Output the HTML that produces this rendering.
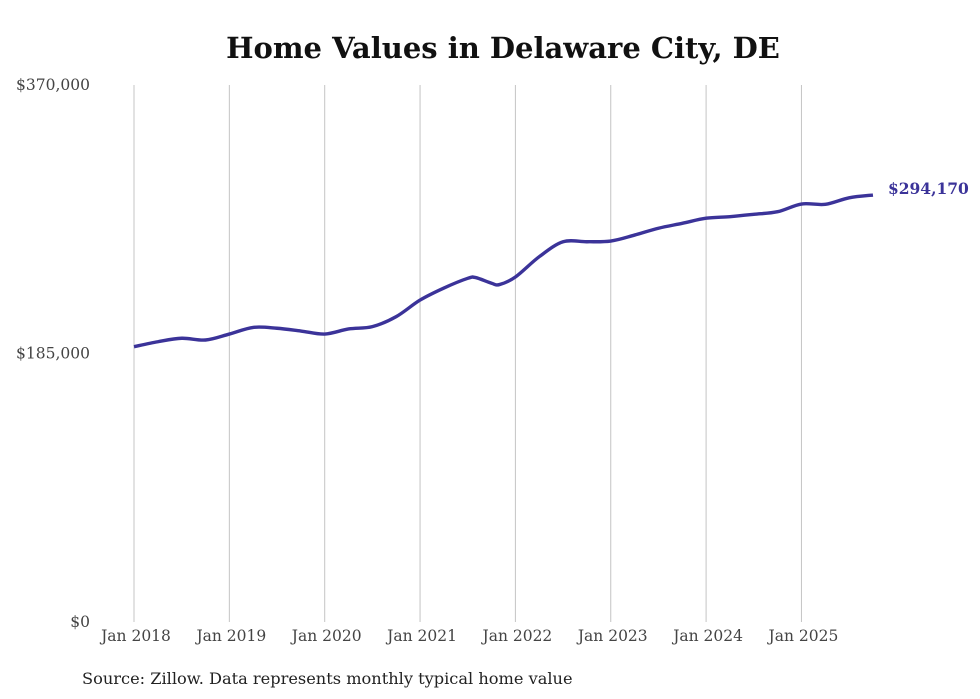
<!DOCTYPE html>
<html><head><meta charset="utf-8"><style>
body{margin:0;background:#fff;}
svg{display:block;font-family:"DejaVu Serif","Liberation Serif",serif;}
</style></head><body>
<svg id="chart" width="980" height="699">
<text x="503" y="58" text-anchor="middle" font-size="29" font-weight="bold" fill="#111">Home Values in Delaware City, DE</text>
<g id="grid"></g><g id="yticks"></g><g id="xticks"></g>
<path id="line" fill="none" stroke="#3b3399" stroke-width="3.4"/>
<text id="endlabel" font-size="15.5" font-weight="bold" fill="#3b3399"></text>
<text x="82" y="684" font-size="16.2" fill="#222">Source: Zillow. Data represents monthly typical home value</text>
</svg>
<script>
const months=[0,3,6,9,12,15,18,21,24,27,30,33,36,39,42,43,45,46,48,51,54,57,60,63,66,69,72,75,78,81,84,87,90,93];
const values=[189700,193100,195500,194300,198400,203000,202400,200500,198400,201900,203500,210400,221800,230100,236800,237300,233400,232500,237700,251700,262000,262000,262500,266600,271300,274700,278200,279300,280900,282700,288000,287800,292300,294170];
const yTickValues=[0,185000,370000];
const yTickLabels=["$0","$185,000","$370,000"];
const xTickYears=[2018,2019,2020,2021,2022,2023,2024,2025];
const xTickLabels=["Jan 2018","Jan 2019","Jan 2020","Jan 2021","Jan 2022","Jan 2023","Jan 2024","Jan 2025"];
const endLabel="$294,170";
const X=m=>134+m*(95.35/12);
const Y=v=>622-v/370000*537;
const ns="http://www.w3.org/2000/svg";
function mk(tag,attrs,parent){const e=document.createElementNS(ns,tag);for(const k in attrs)e.setAttribute(k,attrs[k]);parent.appendChild(e);return e;}
const grid=document.getElementById('grid'),yt=document.getElementById('yticks'),xt=document.getElementById('xticks');
xTickYears.forEach((yr,i)=>{
 const x=X((yr-2018)*12);
 const l=mk('line',{x1:x,x2:x,y1:85,y2:622,stroke:'#c4c4c4','stroke-width':1},grid);
 
 
 const t=mk('text',{x:x+2,y:641,'text-anchor':'middle','font-size':15.5,fill:'#444'},xt);
 t.textContent=xTickLabels[i];
 
 
});
yTickValues.forEach((v,i)=>{
 const t=mk('text',{x:90,y:Y(v)+5,'text-anchor':'end','font-size':15.5,fill:'#444'},yt);
 t.textContent=yTickLabels[i];
 
 
});
const pts=months.map((m,i)=>[X(m),Y(values[i])]);
let d=`M${pts[0][0]},${pts[0][1]}`;
for(let i=0;i<pts.length-1;i++){
 const p0=pts[Math.max(0,i-1)],p1=pts[i],p2=pts[i+1],p3=pts[Math.min(pts.length-1,i+2)];
 const c1=[p1[0]+(p2[0]-p0[0])/6,p1[1]+(p2[1]-p0[1])/6],c2=[p2[0]-(p3[0]-p1[0])/6,p2[1]-(p3[1]-p1[1])/6];
 d+=` C${c1[0]},${c1[1]} ${c2[0]},${c2[1]} ${p2[0]},${p2[1]}`;
}
document.getElementById('line').setAttribute('d',d);
const last=pts[pts.length-1];
const el=document.getElementById('endlabel');
el.setAttribute('x',last[0]+15);el.setAttribute('y',last[1]-1);el.textContent=endLabel;
</script>
</body></html>
